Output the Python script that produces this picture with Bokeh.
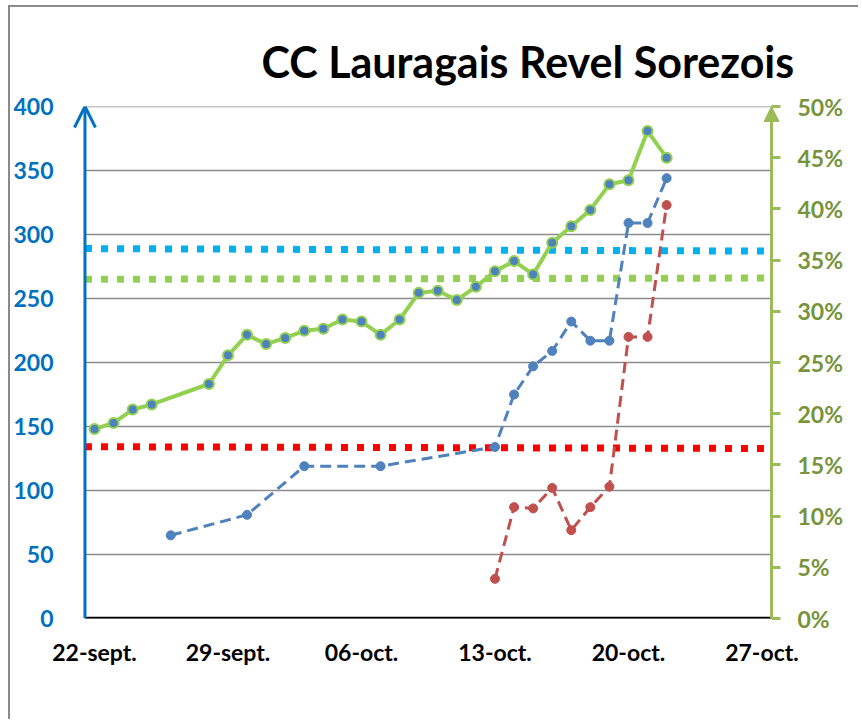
import pandas as pd
from bokeh.plotting import figure
from bokeh.models import (Range1d, LinearAxis, FixedTicker, PrintfTickFormatter,
                          Title, Arrow, OpenHead, NormalHead, ColumnDataSource)
from bokeh.embed import file_html
from bokeh.resources import INLINE

title_text = "CC Lauragais Revel Sorezois"

# Positivity rate (%), right axis
pos_dates = ["2020-09-22", "2020-09-23", "2020-09-24", "2020-09-25", "2020-09-28",
             "2020-09-29", "2020-09-30", "2020-10-01", "2020-10-02", "2020-10-03",
             "2020-10-04", "2020-10-05", "2020-10-06", "2020-10-07", "2020-10-08",
             "2020-10-09", "2020-10-10", "2020-10-11", "2020-10-12", "2020-10-13",
             "2020-10-14", "2020-10-15", "2020-10-16", "2020-10-17", "2020-10-18",
             "2020-10-19", "2020-10-20", "2020-10-21", "2020-10-22"]
pos_rate = [18.5, 19.1, 20.4, 20.9, 22.9, 25.7, 27.7, 26.8, 27.4, 28.1,
            28.3, 29.2, 29.0, 27.7, 29.2, 31.8, 32.0, 31.1, 32.4, 33.9,
            34.9, 33.6, 36.7, 38.3, 39.9, 42.4, 42.8, 47.6, 45.0]

# Incidence (all ages), left axis
inc_dates = ["2020-09-26", "2020-09-30", "2020-10-03", "2020-10-07", "2020-10-13",
             "2020-10-14", "2020-10-15", "2020-10-16", "2020-10-17", "2020-10-18",
             "2020-10-19", "2020-10-20", "2020-10-21", "2020-10-22"]
inc_all = [65, 81, 119, 119, 134, 175, 197, 209, 232, 217, 217, 309, 309, 344]

# Incidence (seniors), left axis
sen_dates = ["2020-10-13", "2020-10-14", "2020-10-15", "2020-10-16", "2020-10-17",
             "2020-10-18", "2020-10-19", "2020-10-20", "2020-10-21", "2020-10-22"]
inc_sen = [31, 87, 86, 102, 69, 87, 103, 220, 220, 323]

# Reference levels (left axis units), start / end of the window
level_cyan = [289, 287]
level_green = [265, 266]
level_red = [134.2, 132.8]

tick_dates = ["2020-09-22", "2020-09-29", "2020-10-06", "2020-10-13", "2020-10-20", "2020-10-27"]
tick_labels = ["22-sept.", "29-sept.", "06-oct.", "13-oct.", "20-oct.", "27-oct."]
x_window = ["2020-09-21 12:00", "2020-10-27 12:00"]

left_ticks = [0, 50, 100, 150, 200, 250, 300, 350, 400]
right_ticks = [0, 5, 10, 15, 20, 25, 30, 35, 40, 45, 50]


def ms(dates):
    return [pd.Timestamp(d).timestamp() * 1000.0 for d in dates]


FONT = "Lato"
BLUE_AX = "#0070C0"
GREEN_AX = "#9BBB59"
GREEN_LBL = "#77933C"
GRID = "#8c8c8c"
DAY = 86400000.0

x0, x1 = ms(x_window)
# small extra room on both sides so that the axis arrowheads are not clipped
pad_l = 0.654 * DAY
pad_r = 0.471 * DAY

p = figure(width=850, height=714, output_backend="svg", toolbar_location=None,
           x_axis_type="datetime",
           x_range=Range1d(x0 - pad_l, x1 + pad_r),
           y_range=Range1d(left_ticks[0], left_ticks[-1]),
           min_border_left=60, min_border_right=80, min_border_top=99, min_border_bottom=103)
p.extra_y_ranges = {"pct": Range1d(right_ticks[0], right_ticks[-1])}
p.outline_line_color = None
p.background_fill_color = "white"
p.border_fill_color = "white"
p.styles = {"margin-left": "8px", "margin-top": "5px",
            "border-left": "2px solid #8a8a8a", "border-top": "2px solid #8a8a8a"}

# grid (drawn between the two axes)
p.xgrid.visible = False
p.ygrid.visible = False
p.segment(x0=[x0] * len(left_ticks), x1=[x1] * len(left_ticks), y0=left_ticks, y1=left_ticks,
          line_color=GRID, line_width=1.6)

# x axis
xa = p.xaxis[0]
xa.ticker = FixedTicker(ticks=ms(tick_dates))
xa.major_label_overrides = {t: l for t, l in zip(ms(tick_dates), tick_labels)}
xa.axis_line_color = None
xa.major_tick_line_color = None
xa.minor_tick_line_color = None
xa.major_label_text_font = FONT
xa.major_label_text_font_style = "bold"
xa.major_label_text_font_size = "23px"
xa.major_label_text_color = "black"
xa.major_label_standoff = 13

# left axis
ya = p.yaxis[0]
ya.ticker = FixedTicker(ticks=left_ticks)
ya.axis_line_color = None
ya.major_tick_line_color = None
ya.minor_tick_line_color = None
ya.major_label_text_font = FONT
ya.major_label_text_font_style = "bold"
ya.major_label_text_font_size = "23px"
ya.major_label_text_color = BLUE_AX
ya.major_label_standoff = 13

# right axis
ra = LinearAxis(y_range_name="pct", ticker=FixedTicker(ticks=right_ticks),
                formatter=PrintfTickFormatter(format="%d%%"))
ra.axis_line_color = None
ra.major_tick_line_color = GREEN_AX
ra.major_tick_line_width = 3
ra.major_tick_in = 9
ra.major_tick_out = 0
ra.minor_tick_line_color = None
ra.major_label_text_font = FONT
ra.major_label_text_font_style = "bold"
ra.major_label_text_font_size = "23px"
ra.major_label_text_color = GREEN_LBL
ra.major_label_standoff = 17
p.add_layout(ra, "right")

# reference level lines
for lv, col in [(level_red, "#FF0000"), (level_green, "#92D050"), (level_cyan, "#00B0F0")]:
    p.line([x0, x1], lv, line_color=col, line_width=7, line_dash="7 9")

# incidence lines
src_all = ColumnDataSource(dict(x=ms(inc_dates), y=inc_all))
p.line("x", "y", source=src_all, line_color="#4F81BD", line_width=3, line_dash="11 6")
p.scatter("x", "y", source=src_all, size=9, fill_color="#4F81BD", line_color="#4F81BD")

src_sen = ColumnDataSource(dict(x=ms(sen_dates), y=inc_sen))
p.line("x", "y", source=src_sen, line_color="#C0504D", line_width=3, line_dash="11 6")
p.scatter("x", "y", source=src_sen, size=9, fill_color="#C0504D", line_color="#C0504D")

# positivity line
src_pos = ColumnDataSource(dict(x=ms(pos_dates), y=pos_rate))
p.line("x", "y", source=src_pos, y_range_name="pct", line_color="#92D050", line_width=4)
p.scatter("x", "y", source=src_pos, y_range_name="pct", size=10, fill_color="#4F81BD",
          line_color="#92D050", line_width=2)

# axis lines
p.line([x0, x1], [left_ticks[0]] * 2, line_color="black", line_width=3.5)
p.add_layout(Arrow(end=OpenHead(size=21, line_color=BLUE_AX, line_width=3),
                   x_start=x0, x_end=x0, y_start=left_ticks[0], y_end=left_ticks[-1],
                   line_color=BLUE_AX, line_width=3))
p.add_layout(Arrow(end=NormalHead(size=15, fill_color=GREEN_AX, line_color=GREEN_AX),
                   x_start=x1, x_end=x1, y_start=right_ticks[0], y_end=right_ticks[-1],
                   y_range_name="pct", line_color=GREEN_AX, line_width=3))

# title
p.add_layout(Title(text=title_text, align="left", offset=189, standoff=39,
                   text_font=FONT, text_font_style="bold", text_font_size="43px",
                   text_color="black"), "above")

open("out.html", "w").write(file_html(p, INLINE))
